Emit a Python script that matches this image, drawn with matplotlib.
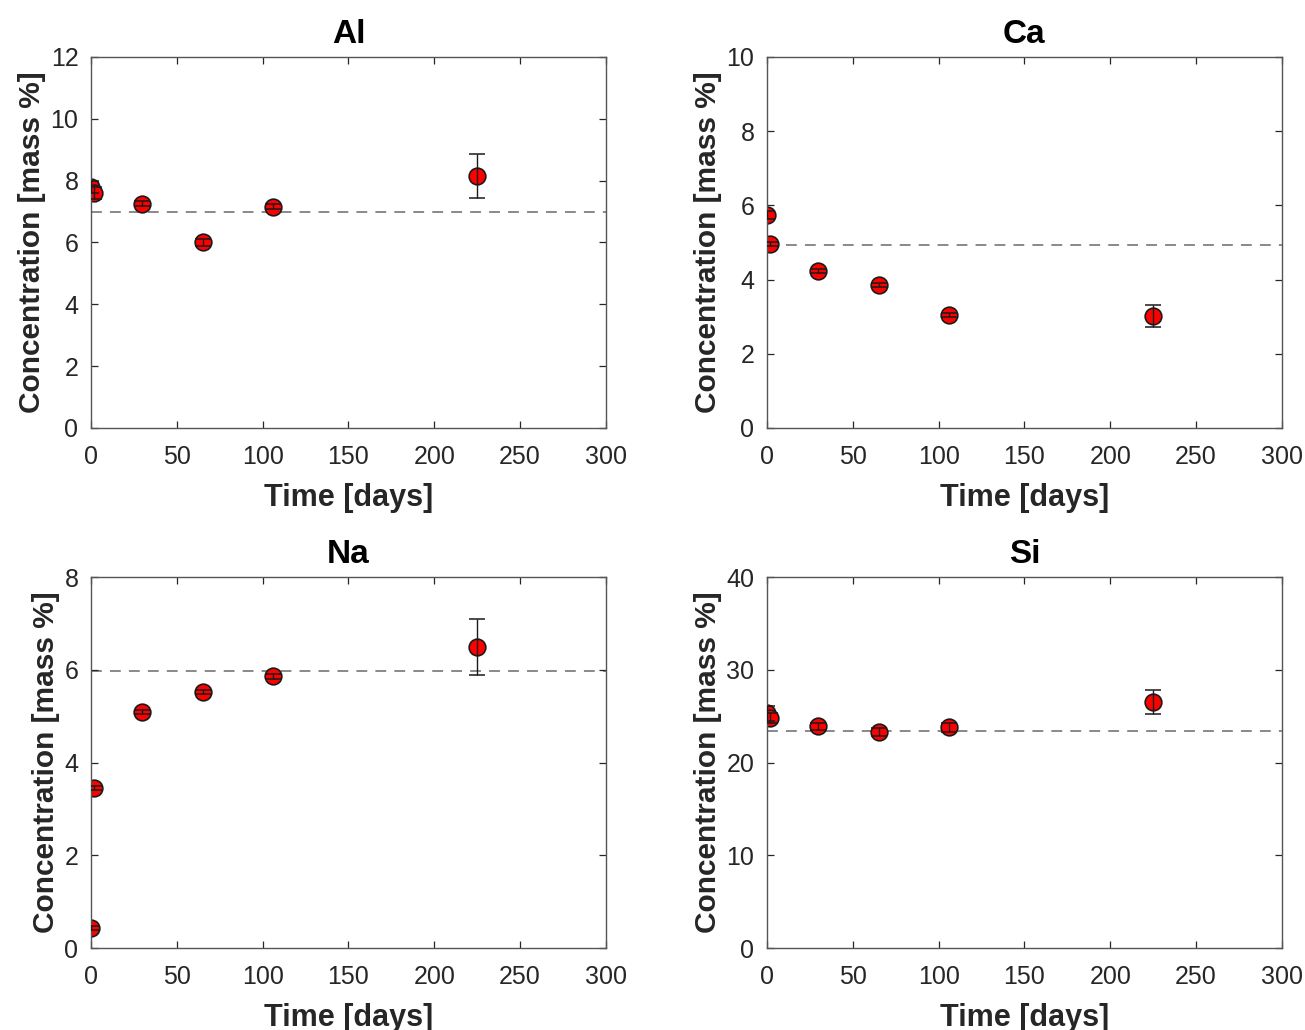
import numpy as np
import matplotlib.pyplot as plt

plt.rcParams['font.family'] = ['Liberation Sans', 'DejaVu Sans']

# measurement days
days = [0, 2, 30, 65, 106, 225]

al = [7.8, 7.6, 7.25, 6.0, 7.15, 8.15]
al_err = [0.2, 0.2, 0.08, 0.11, 0.08, 0.7]
al_ref = 7.0

ca = [5.74, 4.96, 4.23, 3.85, 3.05, 3.02]
ca_err = [0.1, 0.05, 0.05, 0.05, 0.05, 0.3]
ca_ref = 4.93

na = [0.43, 3.45, 5.09, 5.52, 5.86, 6.49]
na_err = [0.05, 0.05, 0.05, 0.05, 0.05, 0.6]
na_ref = 5.97

si = [25.3, 24.8, 23.9, 23.3, 23.8, 26.5]
si_err = [0.8, 0.5, 0.4, 0.4, 0.5, 1.3]
si_ref = 23.4

panels = [
    ('Al', al, al_err, al_ref, 12, [0, 2, 4, 6, 8, 10, 12]),
    ('Ca', ca, ca_err, ca_ref, 10, [0, 2, 4, 6, 8, 10]),
    ('Na', na, na_err, na_ref, 8, [0, 2, 4, 6, 8]),
    ('Si', si, si_err, si_ref, 40, [0, 10, 20, 30, 40]),
]

pos = [
    [0.0697, 0.5845, 0.3946, 0.3602],
    [0.5877, 0.5845, 0.3946, 0.3602],
    [0.0697, 0.0796, 0.3946, 0.3602],
    [0.5877, 0.0796, 0.3946, 0.3602],
]

fig = plt.figure(figsize=(13.05, 10.3), dpi=100)
dark = '#262626'

for p, (name, vals, errs, ref, ymax, yt) in zip(pos, panels):
    ax = fig.add_axes(p)
    ax.axhline(ref, color='#808080', linestyle=(0, (6, 4.5)), linewidth=1.3, zorder=1)
    ax.plot(days, vals, 'o', markersize=12, markerfacecolor='red',
            markeredgecolor='#1a1a1a', markeredgewidth=1.2, zorder=2)
    ax.errorbar(days, vals, yerr=errs, fmt='none', ecolor='#1a1a1a',
                elinewidth=1.0, capsize=6, capthick=1.1, zorder=3)
    ax.set_xlim(0, 300)
    ax.set_ylim(0, ymax)
    ax.set_xticks([0, 50, 100, 150, 200, 250, 300])
    ax.set_yticks(yt)
    ax.tick_params(direction='in', top=True, right=True, length=5,
                   labelsize=18, colors=dark, width=0.9)
    ax.tick_params(axis='x', pad=12)
    ax.tick_params(axis='y', pad=9)
    for s in ax.spines.values():
        s.set_color('#555555')
        s.set_linewidth(1.0)
    ax.set_title(name, fontsize=24, fontweight='bold', pad=10)
    ax.set_xlabel('Time [days]', fontsize=22, fontweight='bold', color=dark, labelpad=10)
    ax.set_ylabel('Concentration [mass %]', fontsize=21.5, fontweight='bold', color=dark, labelpad=3)

plt.savefig('out.png', dpi=100)
